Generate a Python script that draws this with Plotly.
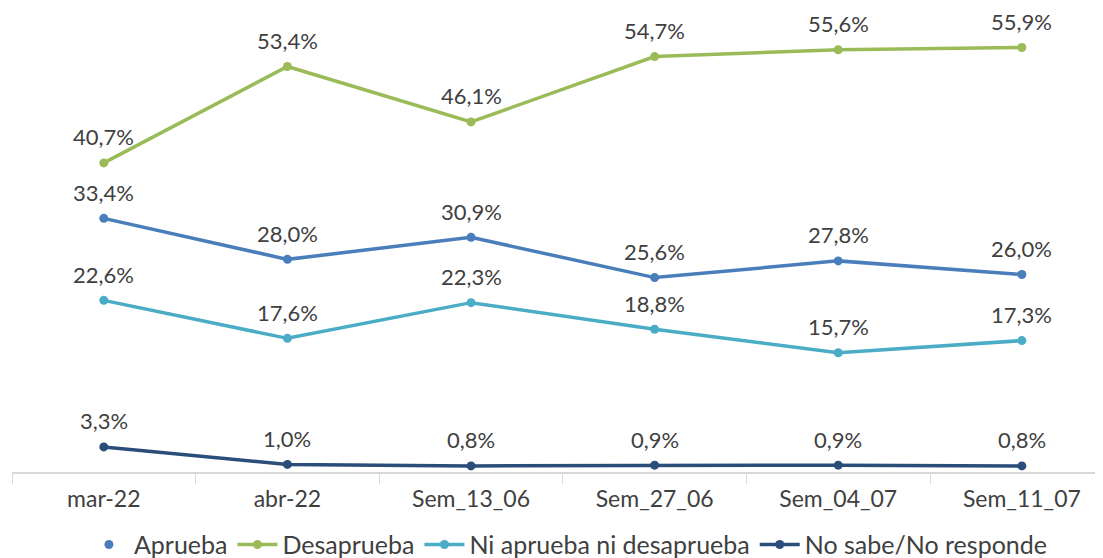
import plotly.graph_objects as go

categories = ['mar-22', 'abr-22', 'Sem_13_06', 'Sem_27_06', 'Sem_04_07', 'Sem_11_07']
aprueba = [33.4, 28.0, 30.9, 25.6, 27.8, 26.0]
desaprueba = [40.7, 53.4, 46.1, 54.7, 55.6, 55.9]
ni_ni = [22.6, 17.6, 22.3, 18.8, 15.7, 17.3]
no_sabe = [3.3, 1.0, 0.8, 0.9, 0.9, 0.8]

series = [
    ('Aprueba', aprueba, '#4a7ebb'),
    ('Desaprueba', desaprueba, '#9bbb59'),
    ('Ni aprueba ni desaprueba', ni_ni, '#4bacc6'),
    ('No sabe/No responde', no_sabe, '#2a4d7a'),
]

fig = go.Figure()
for i, (name, vals, color) in enumerate(series):
    fig.add_trace(go.Scatter(
        x=categories, y=vals, name=name,
        mode='lines+markers',
        line=dict(color=color, width=3.5),
        marker=dict(color=color, size=9),
        showlegend=(i != 0),
        legendrank=i,
    ))
    if i == 0:
        # in the original the legend key of the first series has no visible line
        fig.add_trace(go.Scatter(
            x=[None], y=[None], name=name, mode='lines+markers',
            line=dict(color='white', width=3.5),
            marker=dict(color=color, size=9),
            legendrank=i,
        ))
    for c, v in zip(categories, vals):
        fig.add_annotation(
            x=c, y=v, text=f'{v:.1f}%'.replace('.', ','),
            showarrow=False, yanchor='middle', yshift=26,
            font=dict(size=22, color='#404040'),
        )

# page body has an 8px margin, so the figure is sized to fill the rest of the window
fig.update_layout(
    width=1095, height=550,
    margin=dict(l=4, r=0, t=0, b=86, autoexpand=False),
    paper_bgcolor='white', plot_bgcolor='white',
    font=dict(family='Lato, Open Sans, sans-serif', color='#404040'),
    showlegend=True,
    legend=dict(orientation='h', x=0.51, xanchor='center',
                yref='container', y=0.024, yanchor='middle',
                font=dict(size=25, color='#404040'), itemwidth=40, tracegroupgap=0,
                traceorder='normal'),
)
fig.update_xaxes(
    type='category', range=[-0.5, 5.442],
    showline=True, linecolor='#d9d9d9', linewidth=1.5,
    ticks='outside', tickson='boundaries', ticklen=10, tickcolor='#d9d9d9',
    ticklabelstandoff=6,
    tickfont=dict(size=23, color='#404040'), showgrid=False,
)
fig.update_yaxes(range=[0, 61.1], visible=False, showgrid=False, zeroline=False)

fig.write_html("out.html")
